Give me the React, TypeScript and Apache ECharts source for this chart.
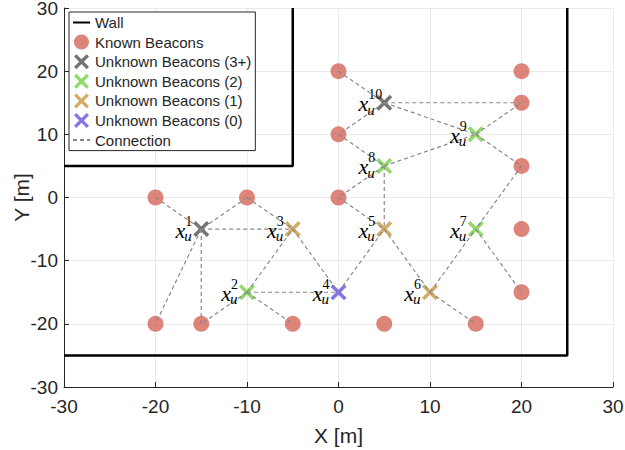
import React, { useEffect, useRef } from "react";
import * as echarts from "echarts";

const knownBeacons: number[][] = [
  [-20, 0], [-10, 0], [0, 20], [0, 10], [0, 0],
  [20, 20], [20, 15], [20, 5], [20, -5], [20, -15],
  [-20, -20], [-15, -20], [-5, -20], [5, -20], [15, -20],
];

// [id, x, y]
const unknown3: number[][] = [[1, -15, -5], [10, 5, 15]];
const unknown2: number[][] = [[2, -10, -15], [7, 15, -5], [8, 5, 5], [9, 15, 10]];
const unknown1: number[][] = [[3, -5, -5], [5, 5, -5], [6, 10, -15]];
const unknown0: number[][] = [[4, 0, -15]];

const walls: number[][][] = [
  [[-30, 5], [-5, 5], [-5, 30]],
  [[-30, -25], [25, -25], [25, 30]],
];

const connections: number[][][] = [
  [[0, 20], [5, 15]],
  [[5, 15], [20, 15]],
  [[5, 15], [15, 10]],
  [[5, 15], [0, 10]],
  [[0, 10], [5, 5]],
  [[5, 5], [15, 10]],
  [[15, 10], [20, 15]],
  [[15, 10], [20, 5]],
  [[5, 5], [0, 0]],
  [[5, 5], [5, -5]],
  [[0, 0], [5, -5]],
  [[20, 5], [15, -5]],
  [[-20, 0], [-15, -5]],
  [[-10, 0], [-15, -5]],
  [[-10, 0], [-5, -5]],
  [[-15, -5], [-5, -5]],
  [[-15, -5], [-20, -20]],
  [[-15, -5], [-15, -20]],
  [[-10, -15], [-15, -20]],
  [[-10, -15], [-5, -5]],
  [[-10, -15], [0, -15]],
  [[-10, -15], [-5, -20]],
  [[-5, -5], [0, -15]],
  [[0, -15], [5, -5]],
  [[5, -5], [10, -15]],
  [[10, -15], [15, -5]],
  [[10, -15], [15, -20]],
  [[15, -5], [20, -15]],
];

const axisTicks = { min: -30, max: 30, interval: 10 };

const FONT = "Liberation Sans, Arial, Helvetica, sans-serif";
const SERIF = '"Liberation Serif", "DejaVu Serif", serif';
const AX = "#262626";

const XPATH =
  "path://M0,2.5 L2.5,0 L8,5.5 L13.5,0 L16,2.5 L10.5,8 L16,13.5 L13.5,16 L8,10.5 L2.5,16 L0,13.5 L5.5,8 Z";

const C_KNOWN = "#D6665A";
const C_3 = "#505050";
const C_2 = "#76CF45";
const C_1 = "#C9973F";
const C_0 = "#6A4FE0";

export default function App() {
  const ref = useRef<HTMLDivElement>(null);
  useEffect(() => {
    document.body.style.margin = "0";
    if (!ref.current) return;
    const chart = echarts.init(ref.current, undefined, { renderer: "svg" });

    const axisCommon = (name: string, gap: number, margin: number) => ({
      type: "value" as const,
      ...axisTicks,
      name,
      nameLocation: "middle" as const,
      nameGap: gap,
      nameMoveOverlap: false,
      nameTextStyle: { fontSize: 21, fontFamily: FONT, color: AX },
      axisLine: { show: true, onZero: false, lineStyle: { color: AX, width: 1 } },
      axisTick: { show: true, inside: true, length: 5, lineStyle: { color: AX } },
      axisLabel: { fontSize: 19, fontFamily: FONT, color: AX, margin },
      splitLine: { show: true, lineStyle: { color: "#ebebeb", width: 1 } },
    });

    const unknownSeries = (name: string, data: number[][], color: string) => ({
      type: "scatter",
      name,
      data: data.map((d) => [d[1], d[2]]),
      symbol: XPATH,
      symbolSize: 16,
      itemStyle: { color },
      z: 3,
    });

    const allUnknown = [...unknown3, ...unknown2, ...unknown1, ...unknown0];

    const series: any[] = [];
    walls.forEach((w) =>
      series.push({
        type: "line",
        name: "Wall",
        data: w,
        symbol: "none",
        lineStyle: { color: "#000", width: 2.5 },
        itemStyle: { color: "#000" },
        z: 2,
      })
    );
    series.push({
      type: "scatter",
      name: "Known Beacons",
      data: knownBeacons,
      symbol: "circle",
      symbolSize: 16,
      itemStyle: { color: C_KNOWN },
      z: 3,
    });
    series.push(unknownSeries("Unknown Beacons (3+)", unknown3, C_3));
    series.push(unknownSeries("Unknown Beacons (2)", unknown2, C_2));
    series.push(unknownSeries("Unknown Beacons (1)", unknown1, C_1));
    series.push(unknownSeries("Unknown Beacons (0)", unknown0, C_0));
    connections.forEach((c) =>
      series.push({
        type: "line",
        name: "Connection",
        data: c,
        symbol: "none",
        lineStyle: { color: "#888888", width: 1.2, type: [4, 3] },
        itemStyle: { color: "#888888" },
        z: 4,
      })
    );
    series.push({
      type: "custom",
      name: "labels",
      data: allUnknown,
      encode: { x: 1, y: 2 },
      z: 5,
      renderItem: (params: any, api: any) => {
        const p = api.coord([api.value(1), api.value(2)]);
        const id = String(api.value(0));
        return {
          type: "group",
          children: [
            {
              type: "text",
              x: p[0] - 16,
              y: p[1] + 1,
              style: {
                text: "x",
                font: `italic 22px ${SERIF}`,
                fill: "#000",
                align: "right",
                verticalAlign: "middle",
              },
            },
            {
              type: "text",
              x: p[0] - 17,
              y: p[1] + 7,
              style: {
                text: "u",
                font: `italic 15px ${SERIF}`,
                fill: "#000",
                align: "left",
                verticalAlign: "middle",
              },
            },
            {
              type: "text",
              x: p[0] - 16,
              y: p[1] - 8,
              style: {
                text: id,
                font: `14px ${SERIF}`,
                fill: "#000",
                align: "left",
                verticalAlign: "middle",
              },
            },
          ],
        };
      },
    });

    const hideSym = { opacity: 0, color: "rgba(0,0,0,0)", borderWidth: 0 };

    chart.setOption({
      animation: false,
      backgroundColor: "#fff",
      grid: {
        left: 64,
        right: 12,
        top: 8,
        bottom: 63,
        containLabel: false,
        outerBoundsMode: "none",
      },
      xAxis: axisCommon("X [m]", 38, 10),
      yAxis: axisCommon("Y [m]", 32, 6),
      legend: {
        orient: "vertical",
        left: 69,
        top: 12,
        itemWidth: 17,
        itemHeight: 15,
        itemGap: 4.6,
        padding: [3, 4, 3, 3],
        borderColor: AX,
        borderWidth: 1,
        borderRadius: 0,
        backgroundColor: "#fff",
        z: 10,
        textStyle: { fontSize: 15, fontFamily: FONT, color: AX },
        data: [
          { name: "Wall", itemStyle: hideSym },
          { name: "Known Beacons", icon: "circle" },
          { name: "Unknown Beacons (3+)", icon: XPATH },
          { name: "Unknown Beacons (2)", icon: XPATH },
          { name: "Unknown Beacons (1)", icon: XPATH },
          { name: "Unknown Beacons (0)", icon: XPATH },
          { name: "Connection", itemStyle: hideSym },
        ],
      },
      series,
    });
    return () => chart.dispose();
  }, []);
  return <div ref={ref} style={{ width: 625, height: 450 }} />;
}
